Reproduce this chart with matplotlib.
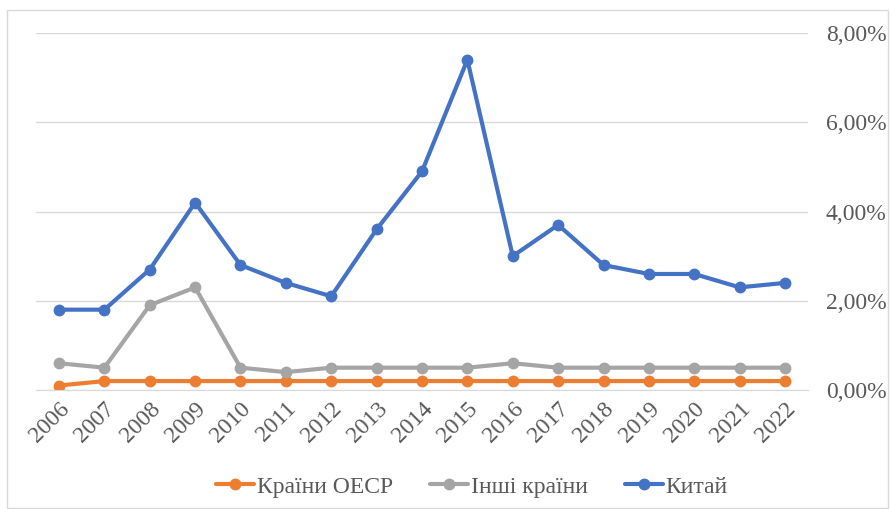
import matplotlib
matplotlib.use("Agg")
import matplotlib.pyplot as plt
from matplotlib.patches import Rectangle
from matplotlib.ticker import FuncFormatter

years = [str(y) for y in range(2006, 2023)]
oecd = [0.1, 0.2, 0.2, 0.2, 0.2, 0.2, 0.2, 0.2, 0.2, 0.2, 0.2, 0.2, 0.2, 0.2, 0.2, 0.2, 0.2]
others = [0.6, 0.5, 1.9, 2.3, 0.5, 0.4, 0.5, 0.5, 0.5, 0.5, 0.6, 0.5, 0.5, 0.5, 0.5, 0.5, 0.5]
china = [1.8, 1.8, 2.7, 4.2, 2.8, 2.4, 2.1, 3.6, 4.9, 7.4, 3.0, 3.7, 2.8, 2.6, 2.6, 2.3, 2.4]
labels = ["Країни OECP", "Інші країни", "Китай"]
colors = ["#ED7D31", "#A5A5A5", "#4472C4"]

plt.rcParams['font.family'] = ['Liberation Serif', 'DejaVu Serif']
txt = "#595959"

fig = plt.figure(figsize=(8.9, 5.09), dpi=100)
ax = fig.add_axes([36.3/890, 1-390/509, (807.7-36.3)/890, (390-33)/509])

x = list(range(len(years)))
for vals, lab, c in zip([oecd, others, china], labels, colors):
    ax.plot(x, vals, color=c, lw=3, marker='o', ms=7.5, label=lab, solid_capstyle='round')

ax.set_xlim(-0.5, len(years)-0.5)
ax.set_ylim(0, 8)
ax.set_yticks([0, 2, 4, 6, 8])
ax.yaxis.set_major_formatter(FuncFormatter(lambda v, p: f"{v:.2f}%".replace('.', ',')))
ax.yaxis.tick_right()
ax.tick_params(axis='y', length=0, pad=13, labelsize=17, labelcolor=txt)
ax.set_xticks(x)
ax.set_xticklabels(years, rotation=45, ha='right', va='top', rotation_mode='anchor')
ax.tick_params(axis='x', length=0, pad=6, labelsize=17, labelcolor=txt)
ax.grid(axis='y', color='#D9D9D9', lw=1)
ax.set_axisbelow(True)
for s in ['top', 'left', 'right']:
    ax.spines[s].set_visible(False)
ax.spines['bottom'].set_color('#D9D9D9')

leg = fig.legend(loc='center', bbox_to_anchor=(472/890, 1-487/509), ncol=3, frameon=False,
                 fontsize=17, handlelength=1.6, columnspacing=1.6, handletextpad=0.1,
                 labelcolor=txt)

fig.patches.append(Rectangle((7/890, 0.002), 881/890, 1-10/509-0.002, transform=fig.transFigure,
                             fill=False, edgecolor='#D9D9D9', lw=1))

fig.savefig("out.png", dpi=100)
